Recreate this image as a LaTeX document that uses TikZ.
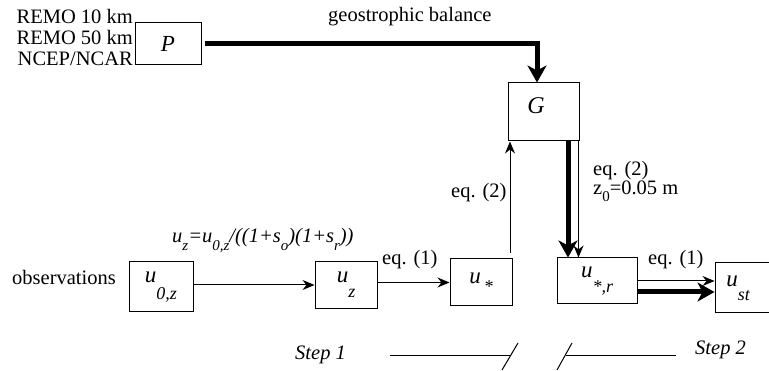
\documentclass[tikz,border=0pt]{standalone}
\usepackage{fontspec}
\setmainfont{Liberation Serif}
\usetikzlibrary{arrows.meta}
\newcommand{\lowsub}[2]{\raisebox{-#1pt}{\fontsize{18}{18}\selectfont\itshape #2}}
\newcommand{\fsub}[1]{\raisebox{-8pt}{\fontsize{15}{15}\selectfont\itshape #1}}
\newcommand{\bigu}{{\fontsize{23}{24}\selectfont\itshape u}}
\begin{document}
\begin{tikzpicture}[x=1pt,y=-1pt,
  box/.style={draw,line width=1pt,inner sep=0pt},
  lbl/.style={inner sep=0pt,font=\fontsize{20.5}{24}\selectfont},
  ilbl/.style={inner sep=0pt,font=\fontsize{20.5}{24}\selectfont\itshape},
  thinarr/.style={line width=1pt,-{Stealth[length=12pt,width=10pt,inset=4pt]}},
  thickarr/.style={line width=5pt,-{Stealth[length=17pt,width=19pt,inset=5pt]}},
  stepline/.style={line width=1pt}]
\useasboundingbox (0,0) rectangle (769,371);
% left labels
\node[lbl,anchor=base east] (r10) at (133,24) {REMO 10 km};
\node[lbl,anchor=base east] (r50) at (133,45) {REMO 50 km};
\node[lbl,anchor=base east] (ncep) at (133,66) {NCEP/NCAR};
\node[lbl,anchor=base west] (geo) at (328,22) {geostrophic balance};
% boxes
\node[box,minimum width=66pt,minimum height=42pt] (P) at (168,44) {\fontsize{23}{24}\selectfont\itshape P};
\node[box,minimum width=71pt,minimum height=58pt] (G) at (543.5,112) {};
\node[inner sep=0pt,font=\fontsize{24}{26}\selectfont\itshape] (Gt) at (536,106) {G};
\node[box,minimum width=64pt,minimum height=50pt] (u0z) at (161,287) {\bigu\lowsub{17}{0,z}};
\node[box,minimum width=62pt,minimum height=47pt] (uz) at (346,285) {\bigu\lowsub{15}{z}};
\node[box,minimum width=62pt,minimum height=47pt] (ustar) at (481,282.5) {\bigu\lowsub{9}{\,*}};
\node[box,minimum width=80pt,minimum height=46pt] (usr) at (597,281) {\bigu\lowsub{15}{*,r}};
\node[box,minimum width=80pt,minimum height=50pt] (ust) at (755,288) {};
\node[inner sep=0pt] (usttxt) at (738,288) {\bigu\lowsub{14}{st}};
% other labels
\node[lbl,anchor=base west] (obs) at (12,285) {observations};
\node[ilbl,anchor=base west] (form) at (172,243) {u\fsub{z}=u\fsub{0,z}/((1+s\fsub{o})(1+s\fsub{r}))};
\node[lbl,anchor=base west] (eq1a) at (382,265) {eq. (1)};
\node[lbl,anchor=base west] (eq2a) at (451,198) {eq. (2)};
\node[lbl,anchor=base west,align=left,font=\fontsize{20.5}{17.5}\selectfont] (eq2b) at (593,195) {eq. (2)\\z\raisebox{-7pt}{\fontsize{15}{15}\selectfont 0}=0.05 m};
\node[lbl,anchor=base west] (eq1b) at (648,265) {eq. (1)};
\node[ilbl,anchor=base west] (s1) at (295,360) {Step 1};
\node[ilbl,anchor=base west] (s2) at (695,355) {Step 2};
% connectors
\draw[thickarr] ([xshift=3pt]P.east) -| ([xshift=-6.5pt]G.north);
\draw[thinarr] (u0z.east |- uz.west) -- (uz.west);
\draw[thinarr] (uz.east |- ustar.west) -- (ustar.west);
\coordinate (a1) at (510,253);
\draw[thinarr] (a1) -- (a1 |- G.south);
\coordinate (gx1) at (568,0);
\coordinate (gx2) at (578.5,0);
\draw[thickarr] (gx1 |- G.south) -- (gx1 |- usr.north);
\draw[thinarr] (gx2 |- G.south) -- (gx2 |- usr.north);
\draw[thinarr] (usr.east) -- (usr.east -| ust.west);
\draw[thickarr] ([yshift=-11pt]usr.east) -- ([yshift=-11pt]usr.east -| ust.west);
% step markers
\draw[stepline] (390,356) -- (510,356);
\draw[stepline] (502,370) -- (518,343);
\draw[stepline] (557,370) -- (572,343);
\draw[stepline] (566,356) -- (676,356);
\end{tikzpicture}
\end{document}
